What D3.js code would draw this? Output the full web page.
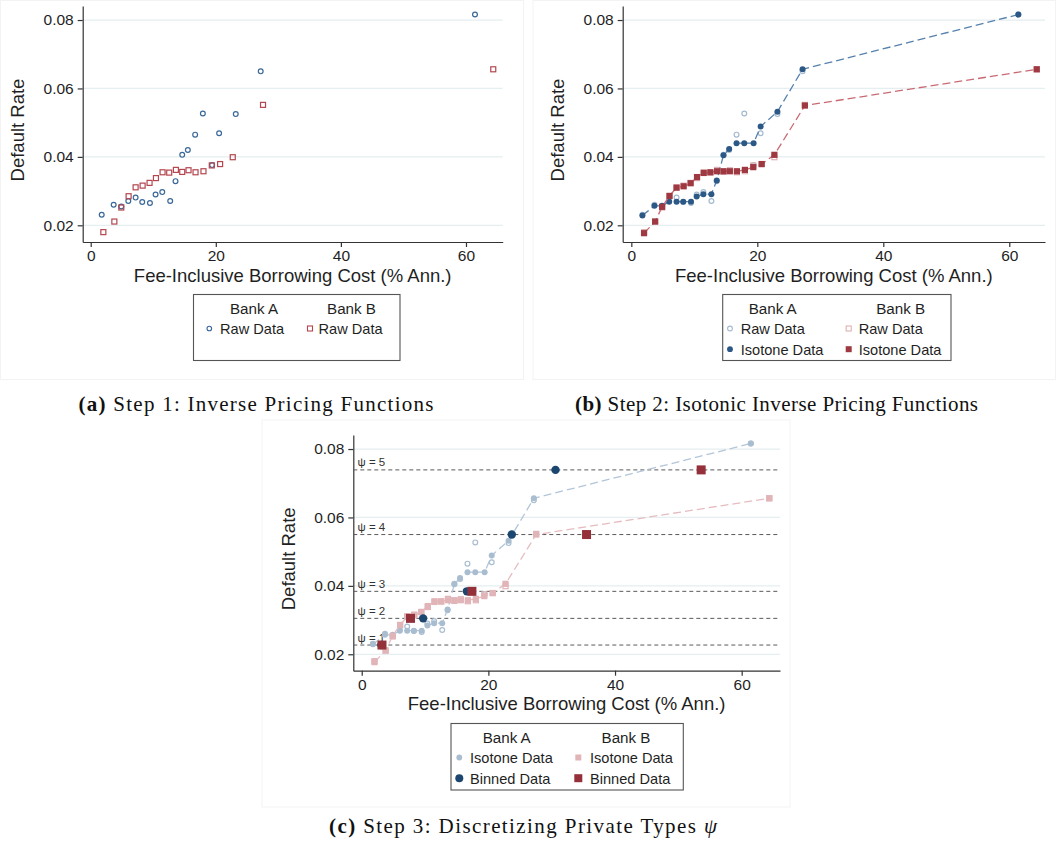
<!DOCTYPE html>
<html>
<head>
<meta charset="utf-8">
<script src="https://cdn.jsdelivr.net/npm/d3@7"></script>
<style>
  body { margin: 0; background: #fff; }
  svg { display: block; }
</style>
</head>
<body>
<svg id="fig" width="1056" height="849"></svg>
<script>
// ---- Data -------------------------------------------------------------
// Fee-inclusive borrowing cost (% annualised) of each pricing cell
const costA = [1.76, 3.67, 4.89, 6.01, 7.18, 8.24, 9.47, 10.37, 11.44, 12.71, 13.56, 14.63, 15.53, 16.70, 17.93, 19.41, 20.53, 23.19, 27.18, 61.44];
const costB = [2.02, 3.78, 4.89, 6.06, 7.18, 8.30, 9.41, 10.43, 11.49, 12.55, 13.62, 14.63, 15.64, 16.76, 18.03, 19.36, 20.69, 22.71, 27.55, 64.36];
// Observed default rates
const rawA = [0.0231, 0.0260, 0.0255, 0.0271, 0.0281, 0.0268, 0.0265, 0.0290, 0.0297, 0.0271, 0.0329, 0.0406, 0.0420, 0.0465, 0.0527, 0.0376, 0.0469, 0.0525, 0.0650, 0.0816];
const rawB = [0.0180, 0.0211, 0.0252, 0.0285, 0.0311, 0.0316, 0.0324, 0.0338, 0.0355, 0.0354, 0.0362, 0.0356, 0.0361, 0.0355, 0.0358, 0.0375, 0.0379, 0.0399, 0.0552, 0.0656];
// Isotonic (monotone) fits of the default rates
const isoA = [0.0229, 0.0257, 0.0257, 0.0269, 0.0269, 0.0269, 0.0269, 0.0284, 0.0291, 0.0291, 0.0331, 0.0405, 0.0423, 0.0440, 0.0440, 0.0440, 0.0489, 0.0532, 0.0656, 0.0816];
const isoB = [0.0177, 0.0211, 0.0254, 0.0286, 0.0310, 0.0314, 0.0323, 0.0341, 0.0353, 0.0355, 0.0358, 0.0358, 0.0358, 0.0358, 0.0362, 0.0370, 0.0379, 0.0406, 0.0550, 0.0656];
// Private types psi: default-rate level and the matching cost at each bank
const psiTypes = [1, 2, 3, 4, 5];
const psiRate = [0.0227, 0.0305, 0.0384, 0.0550, 0.0739];
const binCostA = [3.1, 9.7, 16.6, 23.7, 30.6];
const binCostB = [3.2, 7.7, 17.4, 35.5, 53.6];
// Axis ticks and labels
const costTicks = [0, 20, 40, 60];
const rateTicks = [0.02, 0.04, 0.06, 0.08];
const xTitle = "Fee-Inclusive Borrowing Cost (% Ann.)";
const yTitle = "Default Rate";
const captions = [
  ["(a)", " Step 1: Inverse Pricing Functions"],
  ["(b)", " Step 2: Isotonic Inverse Pricing Functions"],
  ["(c)", " Step 3: Discretizing Private Types "]
];

// ---- Styling ----------------------------------------------------------
const SANS = "'Liberation Sans', Arial, Helvetica, sans-serif";
const SERIF = "'Liberation Serif', 'Times New Roman', serif";
const COL = {
  rawA: "#3b6898", rawB: "#b4464f",
  isoA: "#2c5886", isoB: "#9e3942",
  lineA: "#5581ad", lineB: "#c96a73",
  paleRawA: "#a4bad0", paleRawB: "#ddb1b5",
  fadeA: "#a9bdd1", fadeB: "#e1b4b8",
  fadeLineA: "#b3c5d8", fadeLineB: "#e6bcc0",
  binA: "#1b4670", binB: "#933039",
  grid: "#e5eef0", axis: "#333", text: "#1f1f1f"
};

const svg = d3.select("#fig");
svg.append("rect").attr("width", 1056).attr("height", 849).attr("fill", "#fff");

// faint outlines of the three graph regions
[[0.5, 0.5, 523, 379], [533, 0.5, 522.5, 379], [262, 420, 528, 387]].forEach(b => {
  svg.append("rect").attr("x", b[0]).attr("y", b[1]).attr("width", b[2]).attr("height", b[3])
    .attr("fill", "none").attr("stroke", "#f3f3f3").attr("stroke-width", 1);
});

function makePanel(cfg) {
  const g = svg.append("g");
  const x = d3.scaleLinear().domain(cfg.xDomain).range([cfg.left, cfg.right]);
  const y = d3.scaleLinear().domain(cfg.yDomain).range([cfg.bottom, cfg.top]);

  g.append("g").selectAll("line").data(rateTicks).join("line")
    .attr("x1", cfg.left).attr("x2", cfg.right)
    .attr("y1", d => y(d)).attr("y2", d => y(d))
    .attr("stroke", COL.grid).attr("stroke-width", 1.2);

  const ax = g.append("g").attr("transform", `translate(0,${cfg.bottom})`)
    .call(d3.axisBottom(x).tickValues(costTicks).tickFormat(d3.format("d"))
      .tickSize(5).tickSizeOuter(0).tickPadding(3));
  const ay = g.append("g").attr("transform", `translate(${cfg.left},0)`)
    .call(d3.axisLeft(y).tickValues(rateTicks).tickFormat(d3.format(".2f"))
      .tickSize(5).tickSizeOuter(0).tickPadding(4));
  [ax, ay].forEach(a => {
    a.attr("font-family", SANS).attr("font-size", 15.5);
    a.selectAll("text").attr("fill", COL.text);
    a.selectAll("path, line").attr("stroke", COL.axis).attr("stroke-width", 1.2);
  });

  g.append("text").attr("x", (cfg.left + cfg.right) / 2).attr("y", cfg.bottom + 39.5)
    .attr("text-anchor", "middle").attr("font-family", SANS).attr("font-size", 18.5)
    .attr("fill", COL.text).text(xTitle);
  g.append("text")
    .attr("transform", `translate(${cfg.left - 58.5},${(cfg.top + cfg.bottom) / 2 + 6}) rotate(-90)`)
    .attr("text-anchor", "middle").attr("font-family", SANS).attr("font-size", 18.5)
    .attr("fill", COL.text).text(yTitle);
  return { g, x, y };
}

function hollowCircles(p, xs, ys, color, r = 2.4) {
  p.g.append("g").selectAll("circle").data(xs).join("circle")
    .attr("cx", d => p.x(d)).attr("cy", (d, i) => p.y(ys[i])).attr("r", r)
    .attr("fill", "none").attr("stroke", color).attr("stroke-width", 1.2);
}
function hollowSquares(p, xs, ys, color, s = 5) {
  p.g.append("g").selectAll("rect").data(xs).join("rect")
    .attr("x", d => p.x(d) - s / 2).attr("y", (d, i) => p.y(ys[i]) - s / 2)
    .attr("width", s).attr("height", s)
    .attr("fill", "none").attr("stroke", color).attr("stroke-width", 1.2);
}
function dots(p, xs, ys, color, r = 3) {
  p.g.append("g").selectAll("circle").data(xs).join("circle")
    .attr("cx", d => p.x(d)).attr("cy", (d, i) => p.y(ys[i])).attr("r", r).attr("fill", color);
}
function blocks(p, xs, ys, color, s = 6) {
  p.g.append("g").selectAll("rect").data(xs).join("rect")
    .attr("x", d => p.x(d) - s / 2).attr("y", (d, i) => p.y(ys[i]) - s / 2)
    .attr("width", s).attr("height", s).attr("fill", color);
}
function dashed(p, xs, ys, color, w = 1.3) {
  const line = d3.line().x(d => p.x(d[0])).y(d => p.y(d[1]));
  p.g.append("path").attr("d", line(xs.map((d, i) => [d, ys[i]])))
    .attr("fill", "none").attr("stroke", color).attr("stroke-width", w)
    .attr("stroke-dasharray", "8,4");
}

function legend(box, headers, rows) {
  const g = svg.append("g");
  g.append("rect").attr("x", box.x).attr("y", box.y).attr("width", box.w).attr("height", box.h)
    .attr("fill", "#fff").attr("stroke", "#555").attr("stroke-width", 1.1);
  headers.forEach(h => {
    g.append("text").attr("x", h.x).attr("y", box.y + 19.5).attr("text-anchor", "middle")
      .attr("font-family", SANS).attr("font-size", 15.2).attr("fill", COL.text).text(h.label);
  });
  rows.forEach(r => {
    const cy = box.y + 34 + r.row * 20.7;
    if (r.shape === "circle") {
      g.append("circle").attr("cx", r.mx).attr("cy", cy).attr("r", r.size)
        .attr("fill", r.filled ? r.color : "none").attr("stroke", r.filled ? "none" : r.color)
        .attr("stroke-width", 1.1);
    } else {
      g.append("rect").attr("x", r.mx - r.size).attr("y", cy - r.size)
        .attr("width", 2 * r.size).attr("height", 2 * r.size)
        .attr("fill", r.filled ? r.color : "none").attr("stroke", r.filled ? "none" : r.color)
        .attr("stroke-width", 1.1);
    }
    g.append("text").attr("x", r.tx).attr("y", cy + 5.3)
      .attr("font-family", SANS).attr("font-size", 14.6).attr("fill", COL.text).text(r.label);
  });
}

function caption(cx, cy, width, parts, psi) {
  const t = svg.append("text").attr("x", cx).attr("y", cy).attr("text-anchor", "middle")
    .attr("font-family", SERIF).attr("font-size", 21).attr("fill", "#111")
    .attr("textLength", width).attr("lengthAdjust", "spacing");
  t.append("tspan").attr("font-weight", "bold").text(parts[0]);
  t.append("tspan").text(parts[1]);
  if (psi) t.append("tspan").attr("font-style", "italic").text("ψ");
}

// ---- Panel (a): raw inverse pricing functions -------------------------
const pa = makePanel({ left: 82.7, right: 502.7, top: 6, bottom: 242,
  xDomain: [-1.28, 65.87], yDomain: [0.01512, 0.0841] });
hollowCircles(pa, costA, rawA, COL.rawA);
hollowSquares(pa, costB, rawB, COL.rawB);
legend({ x: 193.5, y: 294.5, w: 206.5, h: 66 },
  [{ x: 254, label: "Bank A" }, { x: 351.5, label: "Bank B" }],
  [{ row: 0, shape: "circle", size: 2.3, color: COL.rawA, filled: false, mx: 209.3, tx: 220, label: "Raw Data" },
   { row: 0, shape: "square", size: 2.5, color: COL.rawB, filled: false, mx: 310, tx: 318.5, label: "Raw Data" }]);

// ---- Panel (b): isotonic fits -----------------------------------------
const pb = makePanel({ left: 622.7, right: 1045, top: 6, bottom: 242,
  xDomain: [-1.37, 65.67], yDomain: [0.01512, 0.0841] });
hollowCircles(pb, costA, rawA, COL.paleRawA);
hollowSquares(pb, costB, rawB, COL.paleRawB);
dashed(pb, costA, isoA, COL.lineA);
dots(pb, costA, isoA, COL.isoA, 3);
dashed(pb, costB, isoB, COL.lineB);
blocks(pb, costB, isoB, COL.isoB, 6.2);
legend({ x: 722.7, y: 294.5, w: 228.3, h: 66 },
  [{ x: 772.7, label: "Bank A" }, { x: 900.7, label: "Bank B" }],
  [{ row: 0, shape: "circle", size: 2.4, color: COL.paleRawA, filled: false, mx: 730, tx: 740.7, label: "Raw Data" },
   { row: 0, shape: "square", size: 2.5, color: COL.paleRawB, filled: false, mx: 848.7, tx: 858.7, label: "Raw Data" },
   { row: 1, shape: "circle", size: 2.9, color: COL.isoA, filled: true, mx: 730, tx: 740.7, label: "Isotone Data" },
   { row: 1, shape: "square", size: 3, color: COL.isoB, filled: true, mx: 848.7, tx: 858.7, label: "Isotone Data" }]);

// ---- Panel (c): discretised private types ------------------------------
const pc = makePanel({ left: 353.3, right: 780, top: 435, bottom: 670.7,
  xDomain: [-1.33, 66.05], yDomain: [0.0152, 0.0841] });
pc.g.append("g").selectAll("line").data(psiRate).join("line")
  .attr("x1", 353.3).attr("x2", 780).attr("y1", d => pc.y(d)).attr("y2", d => pc.y(d))
  .attr("stroke", "#5a5a5a").attr("stroke-width", 1).attr("stroke-dasharray", "4,3");
pc.g.append("g").selectAll("text").data(psiTypes).join("text")
  .attr("x", 357.5).attr("y", (d, i) => pc.y(psiRate[i]) - 3.5)
  .attr("font-family", SANS).attr("font-size", 11.5).attr("fill", "#333")
  .text(d => `ψ = ${d}`);
hollowCircles(pc, costA, rawA, COL.fadeA);
hollowSquares(pc, costB, rawB, COL.fadeB);
dashed(pc, costA, isoA, COL.fadeLineA);
dots(pc, costA, isoA, COL.fadeA, 3);
dashed(pc, costB, isoB, COL.fadeLineB);
blocks(pc, costB, isoB, COL.fadeB, 6.2);
dots(pc, binCostA, psiRate, COL.binA, 4.2);
blocks(pc, binCostB, psiRate, COL.binB, 9);
legend({ x: 451, y: 723.5, w: 232.3, h: 66.5 },
  [{ x: 506.7, label: "Bank A" }, { x: 626, label: "Bank B" }],
  [{ row: 0, shape: "circle", size: 2.9, color: COL.fadeA, filled: true, mx: 459.3, tx: 470, label: "Isotone Data" },
   { row: 0, shape: "square", size: 3, color: COL.fadeB, filled: true, mx: 578.3, tx: 590, label: "Isotone Data" },
   { row: 1, shape: "circle", size: 4, color: COL.binA, filled: true, mx: 459.3, tx: 470, label: "Binned Data" },
   { row: 1, shape: "square", size: 4, color: COL.binB, filled: true, mx: 578.3, tx: 590, label: "Binned Data" }]);

// ---- Sub-figure captions ----------------------------------------------
caption(256, 411, 355, captions[0], false);
caption(776.5, 411, 403, captions[1], false);
caption(523, 833, 388, captions[2], true);
</script>
</body>
</html>
